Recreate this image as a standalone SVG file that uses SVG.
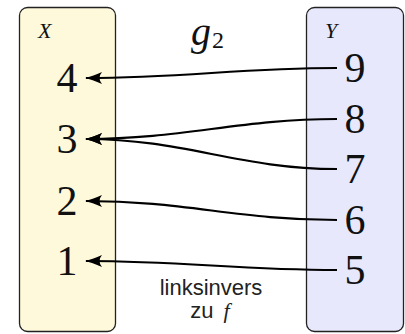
<svg xmlns="http://www.w3.org/2000/svg" width="405" height="334" viewBox="0 0 405 334">
<style>
.box{stroke:#222;stroke-width:1.3}
.num{font-family:"Liberation Serif",serif;font-size:42px;fill:#111;text-anchor:middle}
.set{font-family:"Liberation Serif",serif;font-style:italic;font-size:22px;fill:#111}
.lbl{font-family:"Liberation Sans",Arial,sans-serif;font-size:22px;fill:#222;text-anchor:middle}
.edge{fill:none;stroke:#000;stroke-width:2.2}
</style>
<defs>
<marker id="arr" markerUnits="userSpaceOnUse" orient="auto" markerWidth="20" markerHeight="14" refX="0" refY="0" viewBox="-17 -7 20 14" overflow="visible">
<path d="M1,0 Q-6,-1.5 -16,-6 Q-11,0 -16,6 Q-6,1.5 1,0 Z" fill="#000"/>
</marker>
</defs>
<g id="X">
<rect class="box" x="19.5" y="7.5" width="96" height="324" rx="8" fill="#fdf9da"/>
<text class="set" x="38" y="38">X</text>
<text class="num" x="67" y="92">4</text>
<text class="num" x="67" y="153">3</text>
<text class="num" x="67" y="215">2</text>
<text class="num" x="67" y="275">1</text>
</g>
<g id="Y">
<rect class="box" x="306.5" y="7.5" width="97" height="324" rx="8" fill="#e8e8fd"/>
<text class="set" x="325" y="38">Y</text>
<text class="num" x="355" y="82">9</text>
<text class="num" x="355" y="133">8</text>
<text class="num" x="355" y="183">7</text>
<text class="num" x="355" y="234">6</text>
<text class="num" x="355" y="284">5</text>
</g>
<g id="edges">
<path class="edge" marker-end="url(#arr)" d="M337,68 C239,68 184,78 86,78"/>
<path class="edge" marker-end="url(#arr)" d="M337,119 C239,119 184,139 86,139"/>
<path class="edge" marker-end="url(#arr)" d="M337,169 C239,169 184,139 86,139"/>
<path class="edge" marker-end="url(#arr)" d="M337,220 C239,220 184,201 86,201"/>
<path class="edge" marker-end="url(#arr)" d="M337,270 C239,270 184,261 86,261"/>
</g>
<g id="title">
<text x="191" y="45" style="font-family:'Liberation Serif',serif;font-style:italic;font-size:40px;fill:#111">g</text>
<text x="212" y="48" style="font-family:'Liberation Serif',serif;font-size:24px;fill:#111">2</text>
</g>
<g id="caption">
<text class="lbl" x="211" y="295">linksinvers</text>
<text class="lbl" x="210" y="318">zu <tspan dx="4" style="font-family:'Liberation Serif',serif;font-style:italic">f</tspan></text>
</g>
</svg>
